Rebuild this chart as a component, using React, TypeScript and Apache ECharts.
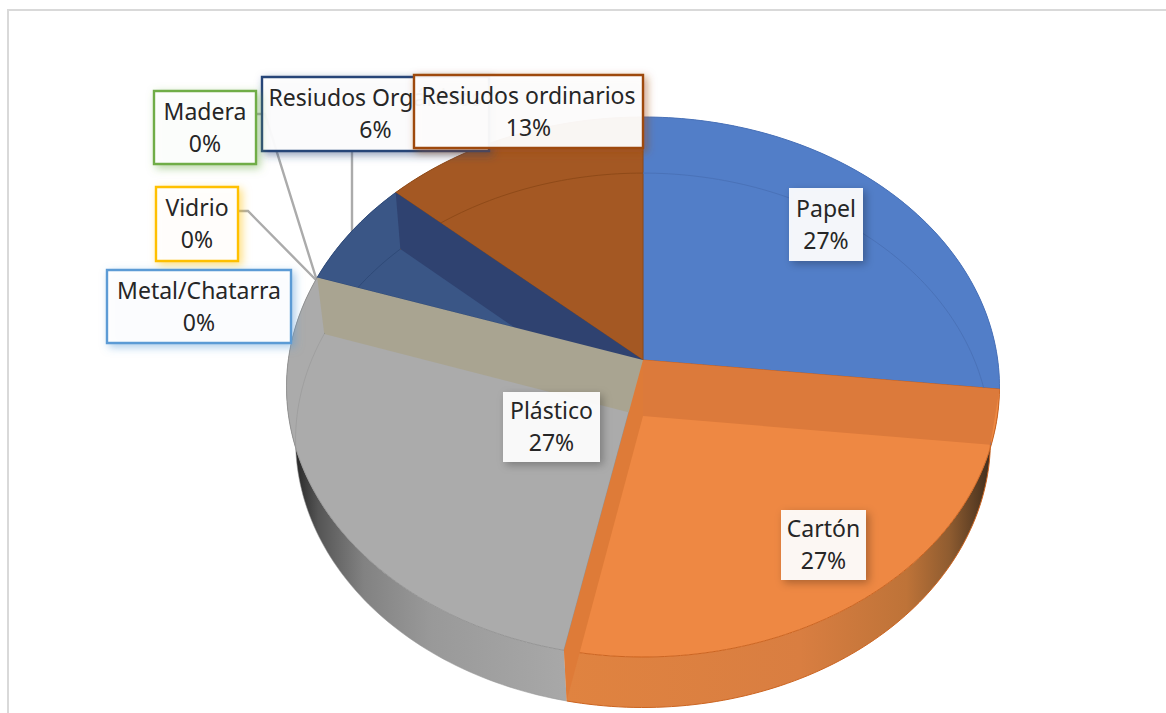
import React, { useEffect, useRef } from "react";
import * as echarts from "echarts";

const categories = ["Papel", "Cartón", "Plástico", "Vidrio", "Metal/Chatarra", "Madera", "Resiudos Orgánicos", "Resiudos ordinarios"];
const shares = [26.72, 26.5, 26.94, 0, 0, 0, 6.49, 13.35];

const sliceColors = ["#527EC8", "#EE8843", "#ABABAB", "#FFC000", "#5B9BD5", "#70AD47", "#3A5686", "#A45823"];
const rimColors = ["#4A72B8", "#CC6420", "#959595", "#FFC000", "#5B9BD5", "#70AD47", "#2F4A78", "#8F4A18"];
const boxBorders = [null, null, null, "#FFC000", "#5B9BD5", "#70AD47", "#264478", "#9E480E"];

const total = shares.reduce((a, b) => a + b, 0);
const cumulative = (i: number) => shares.slice(0, i).reduce((a, b) => a + b, 0);
const startAngle = (i: number) => (cumulative(i) / total) * Math.PI * 2;
const endAngle = (i: number) => (cumulative(i + 1) / total) * Math.PI * 2;

const TOP = { cx: 643, cy: 360, a: 354.7, b: 267.3, k: 0.1 };
const BOTTOM = { cx: 643, cy: 416, a: 346, b: 265, k: 0.0909 };
type Disc = typeof TOP;

const project = (d: Disc, t: number, r = 1): number[] => {
  const u = Math.sin(t) * r;
  const v = -Math.cos(t) * r;
  const den = 1 - d.k * v;
  return [d.cx + (d.a * u) / den, d.cy + (d.b * v) / den];
};
const arc = (d: Disc, from: number, to: number): number[][] => {
  const steps = Math.max(2, Math.ceil(Math.abs(to - from) / 0.02));
  const pts: number[][] = [];
  for (let s = 0; s <= steps; s++) pts.push(project(d, from + ((to - from) * s) / steps));
  return pts;
};

const grad = (stops: [number, string][], x0: number, x1: number) =>
  new echarts.graphic.LinearGradient(x0, 0, x1, 0, stops.map(([offset, color]) => ({ offset, color })), true);

const sideFill = (i: number) => {
  if (i === 1)
    return grad([[0, "#E08340"], [0.55, "#D97E41"], [0.8, "#BE7338"], [0.9, "#8F5C30"], [1, "#3E2C1C"]], 565, 992);
  if (i === 2)
    return grad([[0, "#2B2B2B"], [0.08, "#555555"], [0.25, "#828282"], [0.5, "#999999"], [1, "#A8A8A8"]], 297, 565);
  return sliceColors[i];
};

const wallOrder = [6, 2, 0, 1];
const wallFills: Record<number, string> = {
  6: "#2F4270",
  2: "#A9A491",
  0: "#DC7A3B",
  1: "#DE7B38",
};

const labelBoxes = [
  { i: 6, x: 262, y: 77, w: 227, h: 74 },
  { i: 7, x: 414, y: 75, w: 229, h: 73 },
  { i: 5, x: 154, y: 91, w: 102, h: 73 },
  { i: 3, x: 156, y: 187, w: 82, h: 74 },
  { i: 4, x: 107, y: 270, w: 184, h: 73 },
  { i: 0, x: 789, y: 188, w: 74, h: 73 },
  { i: 2, x: 503, y: 392, w: 97, h: 70 },
  { i: 1, x: 781, y: 510, w: 85, h: 70 },
];

const leaderLines = [
  [[256, 114], [265, 114], [317, 281]],
  [[238, 211], [248, 211], [317, 281]],
  [[352, 151], [352, 240]],
];

const layer = (name: string, z: number, data: number[], renderItem: any) => ({
  type: "custom",
  name,
  coordinateSystem: "none",
  z,
  silent: true,
  clip: false,
  data,
  renderItem,
});

const App = () => {
  const ref = useRef<HTMLDivElement>(null);
  useEffect(() => {
    if (!ref.current) return;
    const chart = echarts.init(ref.current, undefined, { renderer: "svg" });
    const graphic: any[] = [
      {
        type: "rect",
        z: 0,
        shape: { x: 8, y: 10, width: 1200, height: 760 },
        style: { fill: "none", stroke: "#D9D9D9", lineWidth: 2 },
      },
      ...leaderLines.map((points) => ({
        type: "polyline",
        z: 1,
        shape: { points },
        style: { fill: "none", stroke: "#ABABAB", lineWidth: 2.4 },
      })),
    ];
    labelBoxes.forEach((bx, n) => {
      const border = boxBorders[bx.i];
      graphic.push({
        type: "rect",
        z: 10 + n * 2,
        shape: { x: bx.x, y: bx.y, width: bx.w, height: bx.h },
        style: {
          fill: "rgba(255,255,255,0.93)",
          stroke: border || "none",
          lineWidth: border ? 2.4 : 0,
          shadowBlur: 8,
          shadowOffsetX: 3,
          shadowOffsetY: 3,
          shadowColor: border ? border + "88" : "rgba(0,0,0,0.3)",
        },
      });
      graphic.push({
        type: "text",
        z: 11 + n * 2,
        style: {
          text: `${categories[bx.i]}\n${Math.round((shares[bx.i] / total) * 100)}%`,
          x: bx.x + bx.w / 2,
          y: bx.y + bx.h / 2 - 1,
          align: "center",
          verticalAlign: "middle",
          fontFamily: "Noto Sans",
          fontSize: 23,
          lineHeight: 32,
          fill: "#262626",
        },
      });
    });
    chart.setOption({
      animation: false,
      backgroundColor: "#FFFFFF",
      graphic,
      series: [
        layer("Lateral", 2, shares, (p: any) => {
          const i = p.dataIndex;
          if (!shares[i]) return undefined;
          const pts = [...arc(TOP, startAngle(i), endAngle(i)), ...arc(BOTTOM, endAngle(i), startAngle(i))];
          return { type: "polygon", shape: { points: pts }, style: { fill: sideFill(i), stroke: "none" } };
        }),
        layer("Cara", 3, shares, (p: any) => {
          const i = p.dataIndex;
          if (!shares[i]) return undefined;
          const pts = [[TOP.cx, TOP.cy], ...arc(TOP, startAngle(i), endAngle(i))];
          return {
            type: "polygon",
            shape: { points: pts },
            style: { fill: sliceColors[i], stroke: rimColors[i], lineWidth: 1 },
          };
        }),
        layer("Borde", 4, shares, (p: any) => {
          const i = p.dataIndex;
          if (!shares[i]) return undefined;
          return {
            type: "polyline",
            shape: { points: arc(BOTTOM, startAngle(i), endAngle(i)) },
            style: { fill: "none", stroke: rimColors[i], lineWidth: 1, opacity: i === 2 ? 0.55 : 1 },
          };
        }),
        layer("Pared", 5, wallOrder, (p: any, api: any) => {
          const i = api.value(0);
          const t = endAngle(i);
          const pts = [[TOP.cx, TOP.cy], project(TOP, t), project(BOTTOM, t), [BOTTOM.cx, BOTTOM.cy]];
          return { type: "polygon", shape: { points: pts }, style: { fill: wallFills[i], stroke: "none" } };
        }),
      ],
    });
    return () => chart.dispose();
  }, []);
  return <div ref={ref} style={{ position: "fixed", left: 0, top: 0, width: 1166, height: 713 }} />;
};

export default App;
